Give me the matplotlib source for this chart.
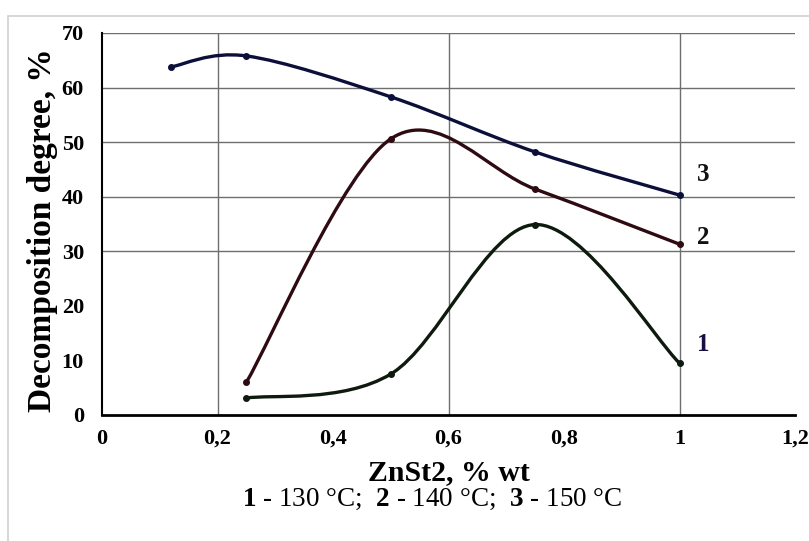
import matplotlib
matplotlib.use("Agg")
import matplotlib.pyplot as plt
from matplotlib.path import Path
from matplotlib.patches import PathPatch, Rectangle
import numpy as np

plt.rcParams['font.family'] = ['Liberation Serif', 'DejaVu Serif']
plt.rcParams['mathtext.fontset'] = 'custom'
plt.rcParams['mathtext.bf'] = 'Liberation Serif:bold'
plt.rcParams['mathtext.rm'] = 'Liberation Serif'

# data
x1 = [0.25, 0.5, 0.75, 1.0]
y1 = [3.1, 7.5, 34.9, 9.5]          # 1 - 130 °C
x2 = [0.25, 0.5, 0.75, 1.0]
y2 = [6.0, 50.6, 41.4, 31.3]        # 2 - 140 °C
x3 = [0.12, 0.25, 0.5, 0.75, 1.0]
y3 = [63.8, 65.8, 58.3, 48.2, 40.3] # 3 - 150 °C

series_colors = ['#0d1a0d', '#2e0b12', '#0b0f3a']
xticks = [0, 0.2, 0.4, 0.6, 0.8, 1.0, 1.2]
xtick_labels = ['0', '0,2', '0,4', '0,6', '0,8', '1', '1,2']
yticks = [0, 10, 20, 30, 40, 50, 60, 70]


def smooth_path(xs, ys):
    # Excel-style smoothed line: cubic Bezier through the points
    p = np.column_stack([xs, ys])
    verts = [p[0]]
    codes = [Path.MOVETO]
    n = len(p)
    for i in range(n - 1):
        p0 = p[i - 1] if i > 0 else p[i]
        p3 = p[i + 2] if i + 2 < n else p[i + 1]
        c1 = p[i] + (p[i + 1] - p0) / 6.0
        c2 = p[i + 1] - (p3 - p[i]) / 6.0
        verts += [c1, c2, p[i + 1]]
        codes += [Path.CURVE4] * 3
    return Path(verts, codes)


fig = plt.figure(figsize=(8.09, 5.41), dpi=100)
fig.patches.append(Rectangle((8 / 809, -0.1), 1.2, 1 - 16 / 541 + 0.1,
                             transform=fig.transFigure, fill=False,
                             edgecolor='#d0d0d0', linewidth=1.2))
ax = fig.add_axes([102 / 809, 1 - 415 / 541, (795 - 102) / 809, (415 - 33) / 541])

# only some grid lines survive in the original picture
for gx in [0.2, 0.6, 1.0]:
    ax.axvline(gx, color='#6e6e6e', linewidth=1.0, zorder=1)
for gy in [30, 40, 50, 60, 70]:
    ax.axhline(gy, color='#6e6e6e', linewidth=1.0, zorder=1)

for xs, ys, c in [(x1, y1, series_colors[0]), (x2, y2, series_colors[1]),
                  (x3, y3, series_colors[2])]:
    ax.add_patch(PathPatch(smooth_path(xs, ys), fill=False, edgecolor=c,
                           linewidth=2.4, zorder=3, capstyle='round'))
    ax.plot(xs, ys, 'o', color=c, markersize=4, zorder=4)

ax.text(1.03, 42.8, '3', fontsize=18, fontweight='bold', color='#111111')
ax.text(1.03, 31.4, '2', fontsize=18, fontweight='bold', color='#111111')
ax.text(1.03, 11.8, '1', fontsize=18, fontweight='bold', color='#1a1040')

ax.set_xlim(0, 1.2)
ax.set_ylim(0, 70)
ax.set_xticks(xticks)
ax.set_xticklabels(xtick_labels)
ax.set_yticks(yticks)
ax.tick_params(axis='x', length=0, labelsize=16, pad=10)
ax.tick_params(axis='y', length=0, labelsize=16, pad=13)
for lab in ax.get_xticklabels() + ax.get_yticklabels():
    lab.set_fontweight('bold')
ax.spines['top'].set_visible(False)
ax.spines['right'].set_visible(False)
ax.spines['left'].set_linewidth(1.5)
ax.spines['bottom'].set_linewidth(2.0)

ax.set_xlabel('ZnSt2, % wt', fontsize=21.5, fontweight='bold', labelpad=7)
ax.set_ylabel('Decomposition degree, %', fontsize=24, fontweight='bold')
ax.yaxis.set_label_coords(-0.064, 0.485)

fig.text(432 / 809, 1 - 499 / 541,
         r'$\mathbf{1}$ - 130 °C;  $\mathbf{2}$ - 140 °C;  $\mathbf{3}$ - 150 °C',
         ha='center', va='center', fontsize=19.5)

fig.savefig('out.png', dpi=100)
